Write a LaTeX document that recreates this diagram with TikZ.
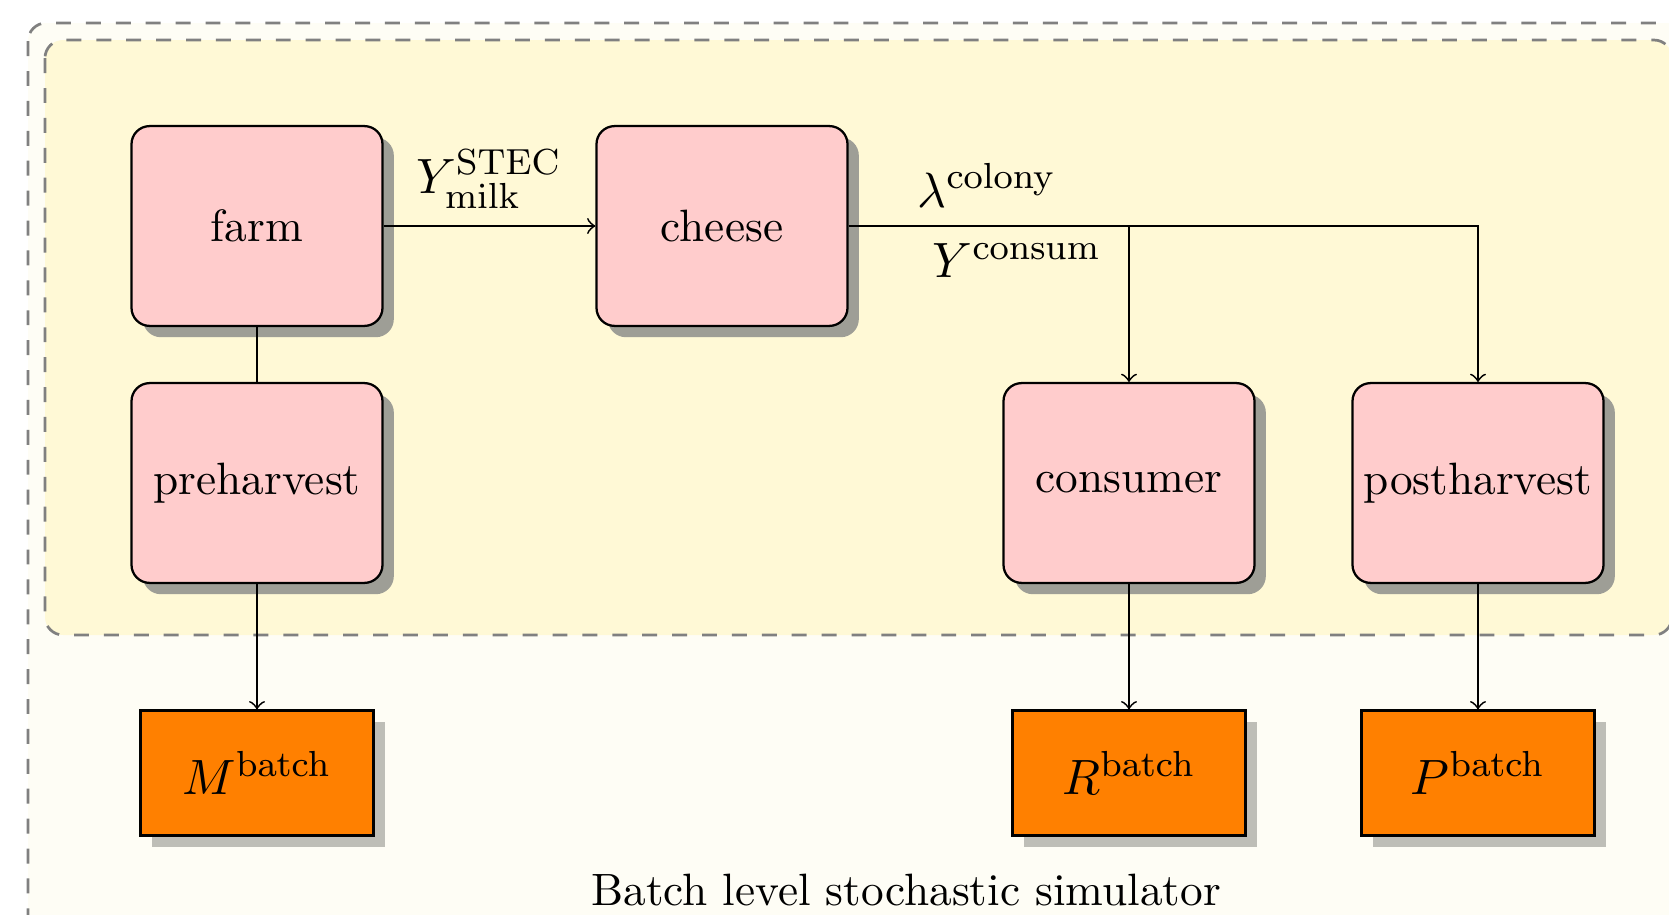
\documentclass[tikz,border=0pt]{standalone}
\usepackage{amsmath}
\usepackage{tikz}
\usetikzlibrary{shadows}

\definecolor{procpink}{RGB}{255,204,204}
\definecolor{outorange}{RGB}{255,128,0}
\definecolor{shadepink}{RGB}{158,158,150}
\definecolor{shadeorange}{RGB}{190,190,183}
\definecolor{innerbg}{RGB}{255,249,214}
\definecolor{outerbg}{RGB}{254,253,245}

\begin{document}
\begin{tikzpicture}[
			x=0.2207pt, y=-0.2207pt,
			proc/.style = {draw, rounded corners=4pt, fill=procpink, line width=.5pt,
				inner xsep=1pt, minimum width=55.4pt, minimum height=44.1pt,
				drop shadow={shadow xshift=2.5pt, shadow yshift=-2.5pt, opacity=1, fill=shadepink}},
			outbox/.style = {draw, fill=outorange, line width=.5pt,
				font=\fontsize{11.2}{13}\selectfont,
				minimum width=51.4pt, minimum height=27.6pt,
				drop shadow={shadow xshift=2.6pt, shadow yshift=-2.6pt, opacity=1, fill=shadeorange}},
			flowlabel/.style = {anchor=base, font=\fontsize{11.2}{13}\selectfont},
			frame/.style = {draw=gray, semithick, dash pattern=on 3.3pt off 3.3pt, rounded corners=4pt}
		]
		\useasboundingbox (0,0) rectangle (1669,915);
		\clip (0,0) rectangle (1669,915);
		% Frames.
		\draw[frame, fill=outerbg] (28,23) rectangle (1720,960);
		\draw[frame, fill=innerbg] (45,40) rectangle (1672,635);
		% Level 1.
		\node[proc] (farm) at (257,226) {farm};
		\node[proc] (cheese) at (722,226) {cheese};
		% Level 2.
		\node[proc] (pre) at (257,483) {preharvest};
		\node[proc] (cons) at (1129,483) {consumer};
		\node[proc] (post) at (1478,483) {postharvest};
		% Outputs.
		\node[outbox] (m) at (257,773) {$M^{\mathrm{batch}}$};
		\node[outbox] (r) at (1129,773) {$R^{\mathrm{batch}}$};
		\node[outbox] (p) at (1478,773) {$P^{\mathrm{batch}}$};
		% Labels.
		\node[flowlabel] (ymilk) at (489,193) {$Y^{\mathrm{STEC}}_{\mathrm{milk}}$};
		\node[flowlabel] (lcol) at (987,207) {$\lambda^{\mathrm{colony}}$};
		\node[flowlabel] (ycons) at (1017,277) {$Y^{\mathrm{consum}}$};
		\node[anchor=base] (title) at (906,905) {Batch level stochastic simulator};

		\draw (farm) to (pre);
		\draw[->] (farm) to (cheese);
		\draw[->] (cheese.east) -| (cons.north);
		\draw[->] (cheese.east) -| (post.north);
		\draw[->] (pre) to (m);
		\draw[->] (cons) to (r);
		\draw[->] (post) to (p);
	\end{tikzpicture}
\end{document}
